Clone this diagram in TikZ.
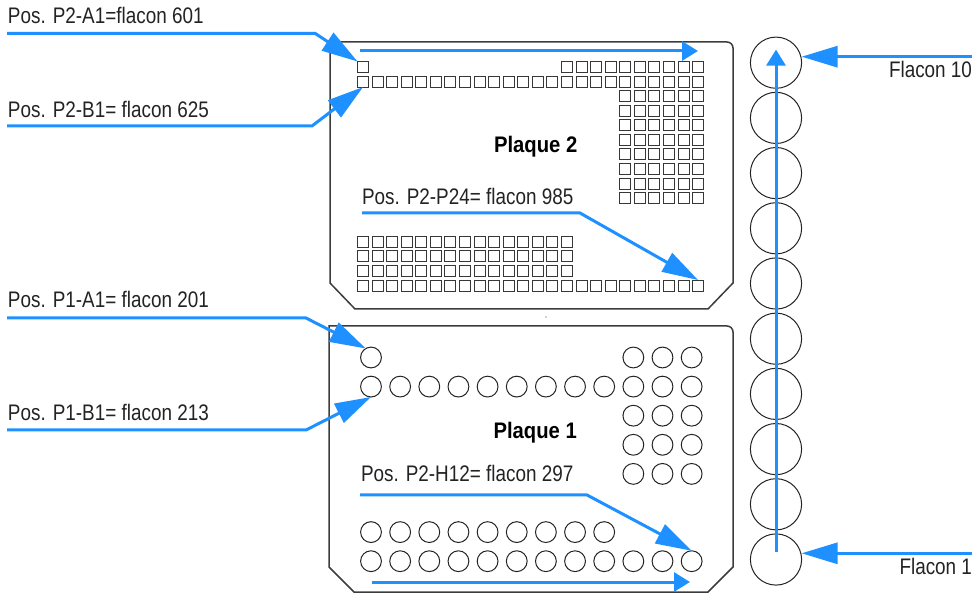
\documentclass[tikz,border=0pt]{standalone}
\usepackage{fontspec}
\setmainfont{Liberation Sans}[FakeStretch=0.84]
\newfontfamily\titlefont{Liberation Sans}[FakeStretch=0.9]
\usetikzlibrary{arrows.meta,calc}
\definecolor{arrowblue}{RGB}{30,144,255}
\definecolor{inkgray}{RGB}{35,35,35}
\definecolor{plategray}{RGB}{60,60,60}
\definecolor{wellgray}{RGB}{55,55,55}
\begin{document}
\begin{tikzpicture}[x=1pt,y=-1pt,
  every node/.style={inner sep=0pt, outer sep=0pt},
  lbl/.style={anchor=base west, font=\fontsize{22.5}{27}\selectfont, text=inkgray},
  lblr/.style={lbl, anchor=base east},
  platetitle/.style={anchor=base west, font=\fontsize{22.5}{27}\selectfont\titlefont\bfseries, text=black},
  plate/.style={draw=plategray, line width=1.5pt, line join=miter},
  sq/.style={draw=wellgray, line width=1.05pt, minimum size=11pt, shape=rectangle},
  well/.style={draw=inkgray, line width=1pt, circle, minimum size=20.8pt},
  vial/.style={draw=inkgray, line width=1pt, circle, minimum size=51.2pt},
  lead/.style={draw=arrowblue, line width=3pt, line join=miter, -{Triangle[length=36pt,width=21pt]}},
  dirarrow/.style={draw=arrowblue, line width=3pt, -{Triangle[length=16pt,width=19pt]}},
]
\useasboundingbox (0,0) rectangle (978,593);

% ---------- plate outlines ----------
\draw[plate] (330,283) -- (330,42) -- (727,42) arc[start angle=-90,end angle=0,radius=6]
  -- (733,283) -- (708,309) -- (355,309) -- cycle;
\draw[plate] (329,567) -- (329,326) -- (727,326) arc[start angle=-90,end angle=0,radius=6]
  -- (733,567) -- (708,592) -- (354,592) -- cycle;
\fill[plategray] (546,317) circle (0.7);

% ---------- plate 2 wells (squares) ----------
\node[sq] (p2-1-1) at (363,67) {};
\foreach \c in {15,...,24} {\node[sq] (p2-1-\c) at ({363+14.57*(\c-1)},67) {};}
\foreach \r in {2,16} {\foreach \c in {1,...,24} {\node[sq] (p2-\r-\c) at ({363+14.57*(\c-1)},{67+14.57*(\r-1)}) {};}}
\foreach \r in {3,...,10} {\foreach \c in {19,...,24} {\node[sq] (p2-\r-\c) at ({363+14.57*(\c-1)},{67+14.57*(\r-1)}) {};}}
\foreach \r in {13,14,15} {\foreach \c in {1,...,15} {\node[sq] (p2-\r-\c) at ({363+14.57*(\c-1)},{67+14.57*(\r-1)}) {};}}

% ---------- plate 1 wells (circles) ----------
\node[well] (p1-1-1) at (371,357.5) {};
\foreach \r in {1,3,4,5} {\foreach \c in {10,11,12} {\node[well] (p1-\r-\c) at ({371+29.15*(\c-1)},{357.5+29.1*(\r-1)}) {};}}
\foreach \r in {2,8} {\foreach \c in {1,...,12} {\node[well] (p1-\r-\c) at ({371+29.15*(\c-1)},{357.5+29.1*(\r-1)}) {};}}
\foreach \c in {1,...,9} {\node[well] (p1-7-\c) at ({371+29.15*(\c-1)},{357.5+29.1*6}) {};}

% ---------- vial column ----------
\foreach \k in {1,...,10} {\node[vial] (v\k) at (776,{559.5-55.2*(\k-1)}) {};}

% ---------- titles ----------
\node[platetitle] (t2) at (494,152.5) {Plaque 2};
\node[platetitle] (t1) at (493.5,438.3) {Plaque 1};

% ---------- labels ----------
\node[lbl] (l2a1) at (8,23.3) {Pos. P2-A1=flacon 601};
\node[lbl] (l2b1) at (8,118) {Pos. P2-B1= flacon 625};
\node[lbl] (l2p24) at (362,205) {Pos. P2-P24= flacon 985};
\node[lbl] (l1a1) at (8,308) {Pos. P1-A1= flacon 201};
\node[lbl] (l1b1) at (8,421) {Pos. P1-B1= flacon 213};
\node[lbl] (l1h12) at (361,482) {Pos. P2-H12= flacon 297};
\node[lblr] (lf10) at (972,78) {Flacon 10};
\node[lblr] (lf1) at (972,575) {Flacon 1};

% ---------- leader arrows ----------
\coordinate (a2s) at (7,33.3);   \coordinate (a2b) at (315,33.3);
\coordinate (b2s) at (7,126);    \coordinate (b2b) at (312,126);
\coordinate (p24s) at (362,213); \coordinate (p24b) at (580,213);
\coordinate (a1s) at (7,318);    \coordinate (a1b) at (306,318);
\coordinate (b1s) at (7,430);    \coordinate (b1b) at (306,430);
\coordinate (h12s) at (360,495); \coordinate (h12b) at (587,495);
\draw[lead] (a2s) -- (a2b) -- (p2-1-1.north west);
\draw[lead] (b2s) -- (b2b) -- (p2-2-1.south);
\draw[lead] (p24s) -- (p24b) -- (p2-16-24.north);
\draw[lead] (a1s) -- (a1b) -- (p1-1-1.120);
\draw[lead] (b1s) -- (b1b) -- (p1-2-1.south);
\draw[lead] (h12s) -- (h12b) -- (p1-8-12.north);

\coordinate (f10s) at (972,56.7);
\coordinate (f1s) at (972,553.3);
\draw[lead] (f10s) -- (f10s -| v10.east);
\draw[lead] (f1s) -- (f1s -| v1.east);

% ---------- direction arrows ----------
\coordinate (d2s) at (360,51);  \coordinate (d2e) at (698,51);
\coordinate (d1s) at (372,582); \coordinate (d1e) at (690,582);
\draw[dirarrow] (d2s) -- (d2e);
\draw[dirarrow] (d1s) -- (d1e);
\draw[dirarrow] ([yshift=7.5pt]v1.center) -- ([yshift=-12.5pt]v10.north);
\end{tikzpicture}
\end{document}
